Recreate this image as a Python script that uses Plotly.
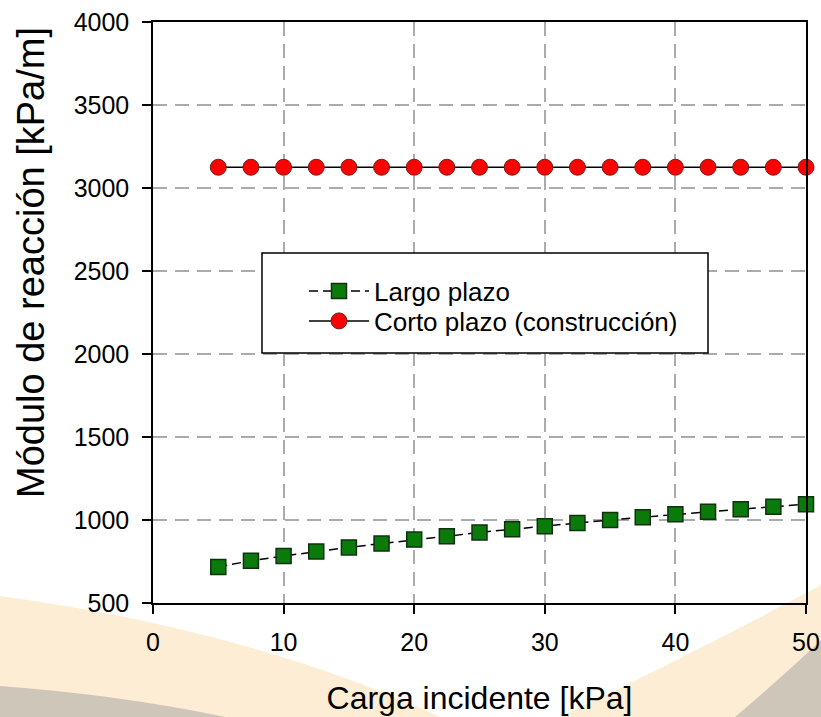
import plotly.graph_objects as go

# ---- data ----
carga = [5, 7.5, 10, 12.5, 15, 17.5, 20, 22.5, 25, 27.5, 30, 32.5, 35, 37.5, 40, 42.5, 45, 47.5, 50]
largo_plazo = [717, 755, 783, 810, 835, 858, 882, 902, 925, 945, 963, 982, 1000, 1017, 1034, 1050, 1065, 1080, 1095]
corto_plazo = [3125] * len(carga)

x_ticks = [0, 10, 20, 30, 40, 50]
y_ticks = [500, 1000, 1500, 2000, 2500, 3000, 3500, 4000]

x_title = "Carga incidente [kPa]"
y_title = "Módulo de reacción [kPa/m]"

FONT = "Liberation Sans, Arial, sans-serif"
W, H = 821, 717
ML, MR, MT, MB = 153, 15, 22, 114
PW, PH = W - ML - MR, H - MT - MB


def px(x, y):
    """pixel -> paper coords (for decorative background / legend frame only)"""
    return (x - ML) / PW, (H - MB - y) / PH


def path(points_cmds):
    out = []
    for cmd, pts in points_cmds:
        out.append(cmd + " ".join("%.4f,%.4f" % px(*p) for p in pts))
    return " ".join(out) + " Z"


fig = go.Figure()

fig.add_trace(go.Scatter(
    x=carga, y=largo_plazo, name="Largo plazo", mode="lines+markers",
    line=dict(color="black", width=1.5, dash="9px,5px"),
    marker=dict(symbol="square", size=15, color="#0a7a0a",
                line=dict(color="#103010", width=1.5)),
    cliponaxis=False, legend="legend",
))
fig.add_trace(go.Scatter(
    x=carga, y=corto_plazo, name="Corto plazo (construcción)", mode="lines+markers",
    line=dict(color="black", width=1.5),
    marker=dict(symbol="circle", size=16, color="#ff0000",
                line=dict(color="#702020", width=1)),
    cliponaxis=False, legend="legend2",
))

bg = [
    ("rgba(248,215,160,0.45)", [("M", [(0, 596)]), ("Q", [(250, 630), (440, 717)]), ("L", [(0, 717)])]),
    ("rgba(248,215,160,0.45)", [("M", [(560, 717)]), ("Q", [(700, 650), (821, 585)]), ("L", [(821, 717)])]),
    ("rgba(150,150,150,0.45)", [("M", [(0, 686)]), ("Q", [(120, 695), (225, 717)]), ("L", [(0, 717)])]),
    ("rgba(150,150,150,0.45)", [("M", [(735, 717)]), ("Q", [(790, 670), (821, 640)]), ("L", [(821, 717)])]),
]
shapes = [dict(type="path", xref="paper", yref="paper", layer="below", line=dict(width=0),
               fillcolor=c, path=path(p)) for c, p in bg]

# legend frame
lx0, ly0 = px(262, 353)
lx1, ly1 = px(708, 253)
shapes.append(dict(type="rect", xref="paper", yref="paper", layer="above",
                   x0=lx0, y0=ly0, x1=lx1, y1=ly1,
                   fillcolor="white", line=dict(color="black", width=1.5)))
leg_x, leg1_y = px(304, 291)
_, leg2_y = px(304, 321)

leg_common = dict(x=leg_x, xanchor="left", yanchor="middle",
                  bgcolor="rgba(0,0,0,0)", borderwidth=0,
                  font=dict(family=FONT, size=26, color="black"),
                  itemwidth=60)

ytx, yty = px(31, 263)

axis_common = dict(
    showline=True, linecolor="black", linewidth=1.5, mirror=True,
    ticks="outside", ticklen=9, tickcolor="black", tickwidth=1.5,
    showgrid=True, gridcolor="#ababab", gridwidth=2, griddash="14px,8px",
    zeroline=False, automargin=False,
    tickfont=dict(family=FONT, size=25, color="black"),
)

fig.update_layout(
    width=W, height=H,
    margin=dict(l=ML, r=MR, t=MT, b=MB, autoexpand=False),
    paper_bgcolor="white", plot_bgcolor="white",
    font=dict(family=FONT, color="black"),
    showlegend=True,
    legend=dict(y=leg1_y, **leg_common),
    legend2=dict(y=leg2_y, **leg_common),
    shapes=shapes,
    annotations=[dict(text=y_title, xref="paper", yref="paper", x=ytx, y=yty,
                      xanchor="center", yanchor="middle", textangle=-90, showarrow=False,
                      font=dict(family=FONT, size=38, color="black"))],
    xaxis=dict(range=[0, 50], tickvals=x_ticks, ticklabelstandoff=7,
               title=dict(text=x_title, font=dict(family=FONT, size=32), standoff=32),
               **axis_common),
    yaxis=dict(range=[500, 4000], tickvals=y_ticks, ticklabelstandoff=8,
               **axis_common),
)

fig.write_html("out.html")
